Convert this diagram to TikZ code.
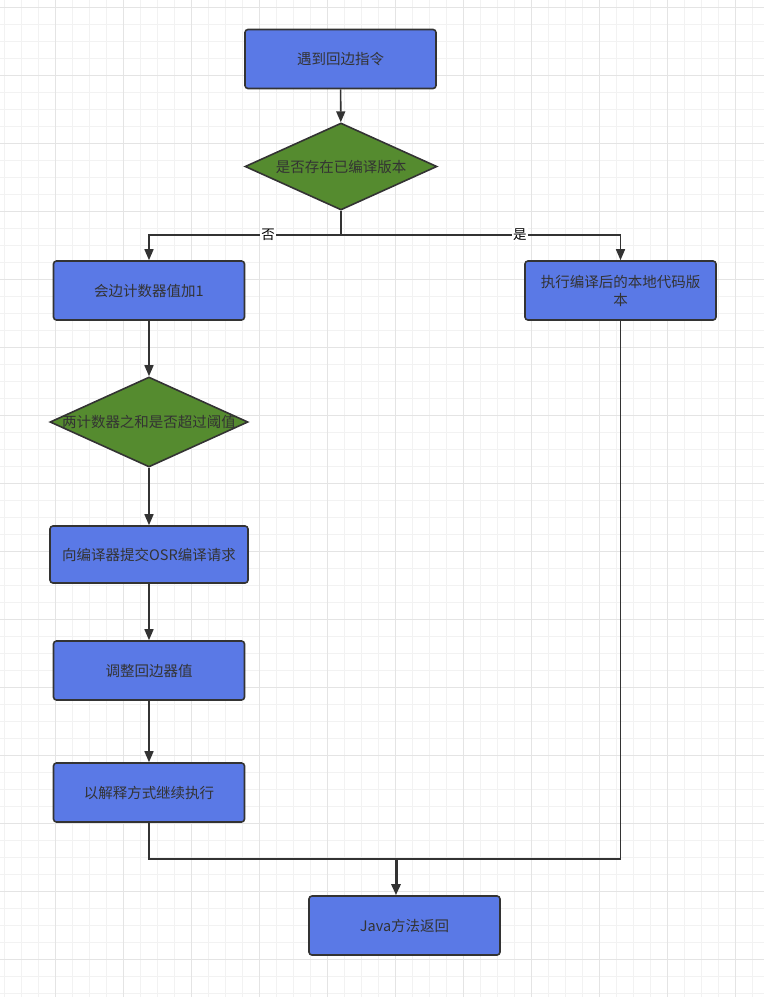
\documentclass[tikz,border=0pt]{standalone}
\usepackage{fontspec}
\setmainfont{Noto Sans CJK SC}
\usetikzlibrary{arrows.meta,shapes.geometric}
\usetikzlibrary{positioning}

\definecolor{boxblue}{HTML}{5A79E6}
\definecolor{boxgreen}{HTML}{558B2F}
\definecolor{linegray}{HTML}{333333}
\definecolor{gridminor}{HTML}{F2F2F2}
\definecolor{gridmajor}{HTML}{E4E4E4}

\tikzset{
  boxtext/.style={text=linegray, font=\fontsize{14.5}{18}\selectfont},
  procbox/.style={rectangle, rounded corners=3pt, draw=linegray, line width=1.6pt,
    fill=boxblue, minimum width=191pt, minimum height=59pt, align=center, boxtext},
  decision/.style={diamond, draw=linegray, line width=1.6pt, fill=boxgreen,
    minimum width=#1, minimum height=87pt, inner sep=0pt},
  flow/.style={draw=linegray, line width=1.6pt, -{Triangle[length=11pt,width=9pt]}},
  plain/.style={draw=linegray, line width=1.6pt},
  lbl/.style={fill=white, inner sep=1pt, text=black, font=\fontsize{13.5}{16}\selectfont}
}

\begin{document}
\begin{tikzpicture}[x=1pt,y=-1pt]
\useasboundingbox (0,0) rectangle (764,997);
\fill[white] (0,0) rectangle (764,997);
% grid
\foreach \i in {0,...,44} \draw[gridminor, line width=0.7pt] ({4+17*\i},0) -- ++(0,997);
\foreach \j in {0,...,58} \draw[gridminor, line width=0.7pt] (0,{7+17*\j}) -- ++(764,0);
\foreach \i in {0,...,10} \draw[gridmajor, line width=0.7pt] ({55+68*\i},0) -- ++(0,997);
\foreach \j in {0,...,14} \draw[gridmajor, line width=0.7pt] (0,{7+68*\j}) -- ++(764,0);

% nodes
\node[procbox] (start) at (340.5,59) {遇到回边指令};
\node[decision=192pt, label={[boxtext]center:是否存在已编译版本}] (hascode) at (341,166.5) {};
\node[procbox] (count) at (149,290.5) {会边计数器值加1};
\node[procbox] (native) at (620.5,290.5) {执行编译后的本地代码版\\本};
\node[decision=198pt, minimum height=90pt, label={[boxtext]center:两计数器之和是否超过阈值}] (limit) at (149,422) {};
\node[procbox, minimum width=198pt, minimum height=57pt] (osr) at (149,554.5) {向编译器提交OSR编译请求};
\node[procbox] (adjust) at (149,670.5) {调整回边器值};
\node[procbox] (interp) at (149,792.5) {以解释方式继续执行};
\node[procbox] (ret) at (404.5,925.5) {Java方法返回};

\coordinate (split) at (341,235);
\coordinate (join) at (396,859);

% connectors
\draw[flow] (start) -- (hascode);
\draw[plain] (hascode.south) -- (split);
\draw[flow] (split) -| node[lbl, pos=0.19]{否} (count.north);
\draw[flow] (split) -| node[lbl, pos=0.32]{是} (native.north);
\draw[flow] (count) -- (limit);
\draw[flow] (limit) -- (osr);
\draw[flow] (osr) -- (adjust);
\draw[flow] (adjust) -- (interp);
\draw[plain] (interp.south) |- (join);
\draw[plain] (native.south) |- (join);
\draw[flow, line width=3pt] (join) -- (join |- ret.north);
\end{tikzpicture}
\end{document}
